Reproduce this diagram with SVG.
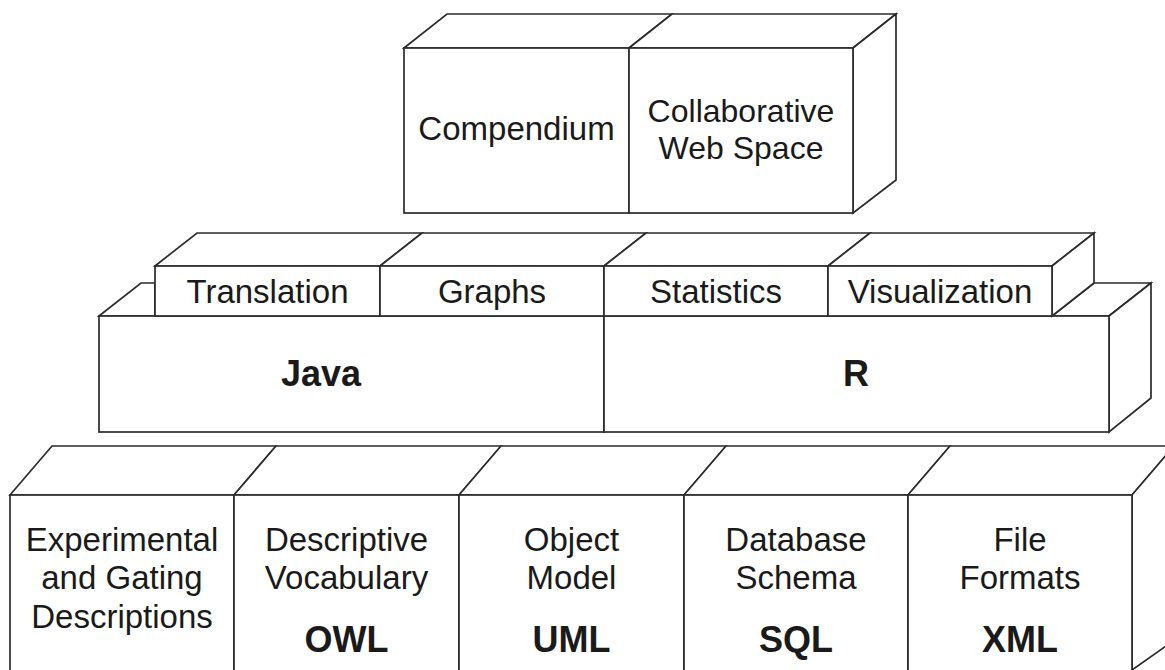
<svg xmlns="http://www.w3.org/2000/svg" width="1165" height="670" viewBox="0 0 1165 670">
<style>
.f{fill:#fff;stroke:#2b2b2b;stroke-width:1.7;stroke-linejoin:miter}
.l{fill:none;stroke:#2b2b2b;stroke-width:1.7}
.t{font-family:"Liberation Sans",Arial,sans-serif;font-size:33px;fill:#1a1a1a;text-anchor:middle}
.b{font-family:"Liberation Sans",Arial,sans-serif;font-size:36px;font-weight:bold;fill:#1a1a1a;text-anchor:middle}
</style>
<rect width="1165" height="670" fill="#fff"/>

<g id="compendium">
<polygon class="f" points="404,48 447,14 672,14 629,48"/>
<rect class="f" x="404" y="48" width="225" height="165"/>
<text class="t" x="516.5" y="140">Compendium</text>
</g>
<g id="collaborative-web-space">
<polygon class="f" points="629,48 672,14 896,14 853,48"/>
<polygon class="f" points="853,48 896,14 896,180 853,213"/>
<rect class="f" x="629" y="48" width="224" height="165"/>
<text class="t" x="741" y="122" style="font-size:32px">Collaborative</text>
<text class="t" x="741" y="159" style="font-size:32px">Web Space</text>
</g>

<g id="java">
<polygon class="f" points="99,316 141,283 155,283 155,316"/>
<rect class="f" x="99" y="316" width="505" height="116"/>
<text class="b" x="321" y="386">Java</text>
</g>
<g id="r">
<polygon class="f" points="1052,316 1094,283 1151,283 1109,316"/>
<polygon class="f" points="1109,316 1151,283 1151,398 1109,432"/>
<rect class="f" x="604" y="316" width="505" height="116"/>
<text class="b" x="856" y="386">R</text>
</g>

<g id="translation">
<polygon class="f" points="155,266 197,233 422,233 380,266"/>
<rect class="f" x="155" y="266" width="225" height="50"/>
<text class="t" x="267.5" y="303">Translation</text>
</g>
<g id="graphs">
<polygon class="f" points="380,266 422,233 646,233 604,266"/>
<rect class="f" x="380" y="266" width="224" height="50"/>
<text class="t" x="492" y="303">Graphs</text>
</g>
<g id="statistics">
<polygon class="f" points="604,266 646,233 870,233 828,266"/>
<rect class="f" x="604" y="266" width="224" height="50"/>
<text class="t" x="716" y="303">Statistics</text>
</g>
<g id="visualization">
<polygon class="f" points="828,266 870,233 1094,233 1052,266"/>
<polygon class="f" points="1052,266 1094,233 1094,283 1052,316"/>
<rect class="f" x="828" y="266" width="224" height="50"/>
<text class="t" x="940" y="303">Visualization</text>
</g>

<g id="experimental-gating">
<polygon class="f" points="10,495 52,446 276,446 234,495"/>
<rect class="f" x="10" y="495" width="224" height="190"/>
<text class="t" x="122" y="551">Experimental</text>
<text class="t" x="122" y="589">and Gating</text>
<text class="t" x="122" y="628">Descriptions</text>
</g>
<g id="descriptive-vocabulary">
<polygon class="f" points="234,495 276,446 501,446 459,495"/>
<rect class="f" x="234" y="495" width="225" height="190"/>
<text class="t" x="346.5" y="551">Descriptive</text>
<text class="t" x="346.5" y="589">Vocabulary</text>
<text class="b" x="346.5" y="652">OWL</text>
</g>
<g id="object-model">
<polygon class="f" points="459,495 501,446 726,446 684,495"/>
<rect class="f" x="459" y="495" width="225" height="190"/>
<text class="t" x="571.5" y="551">Object</text>
<text class="t" x="571.5" y="589">Model</text>
<text class="b" x="571.5" y="652">UML</text>
</g>
<g id="database-schema">
<polygon class="f" points="684,495 726,446 950,446 908,495"/>
<rect class="f" x="684" y="495" width="224" height="190"/>
<text class="t" x="796" y="551">Database</text>
<text class="t" x="796" y="589">Schema</text>
<text class="b" x="796" y="652">SQL</text>
</g>
<g id="file-formats">
<polygon class="f" points="908,495 950,446 1174,446 1132,495"/>
<polygon class="f" points="1132,495 1174,446 1174,700 1132,700"/>
<rect class="f" x="908" y="495" width="224" height="190"/>
<line class="l" x1="1132" y1="670" x2="1166" y2="646"/>
<text class="t" x="1020" y="551">File</text>
<text class="t" x="1020" y="589">Formats</text>
<text class="b" x="1020" y="652">XML</text>
</g>

<g id="connectors"></g>
</svg>
